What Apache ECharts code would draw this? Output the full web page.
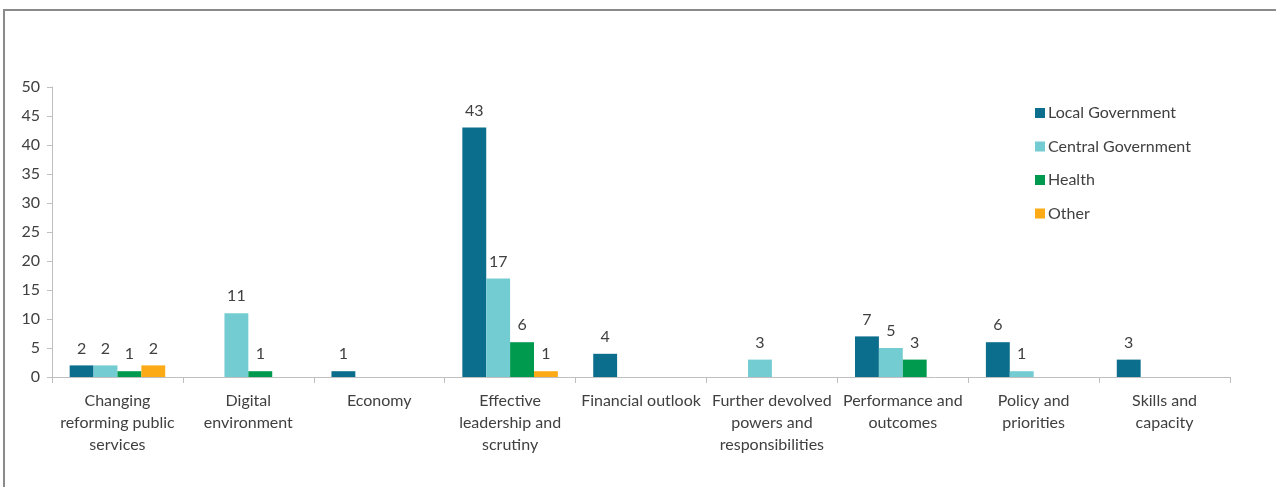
<!DOCTYPE html>
<html>
<head>
<meta charset="utf-8">
<script src="https://cdn.jsdelivr.net/npm/echarts@6/dist/echarts.min.js"></script>
<style>
  html, body { margin: 0; padding: 0; background: #fff; }
  #chart { width: 1276px; height: 487px; }
</style>
</head>
<body>
<div id="chart"></div>
<script>
// Themes and counts per sector
const categories = [
  'Changing\nreforming public\nservices',
  'Digital\nenvironment',
  'Economy',
  'Effective\nleadership and\nscrutiny',
  'Financial outlook',
  'Further devolved\npowers and\nresponsibilities',
  'Performance and\noutcomes',
  'Policy and\npriorities',
  'Skills and\ncapacity'
];
const seriesNames = ['Local Government', 'Central Government', 'Health', 'Other'];
const localGovernment   = [2, null, 1, 43, 4, null, 7, 6, 3];
const centralGovernment = [2, 11, null, 17, null, 3, 5, 1, null];
const health            = [1, 1, null, 6, null, null, 3, null, null];
const other             = [2, null, null, 1, null, null, null, null, null];
const yTicks = { min: 0, max: 50, interval: 5 };

const colors = ['#0B6E8C', '#74CCD3', '#009A4E', '#FCAB17'];
const values = [localGovernment, centralGovernment, health, other];
const fontFamily = 'Lato, "Open Sans", sans-serif';

const chart = echarts.init(document.getElementById('chart'));
chart.setOption({
  animation: false,
  textStyle: { fontFamily: fontFamily },
  graphic: [{
    type: 'rect',
    shape: { x: 4, y: 10, width: 1320, height: 520 },
    style: { fill: 'none', stroke: '#8a8a8a', lineWidth: 2 },
    silent: true
  }],
  legend: {
    orient: 'vertical',
    left: 1030,
    top: 100,
    itemWidth: 10,
    itemHeight: 10,
    itemGap: 17.5,
    icon: 'rect',
    textStyle: { fontSize: 16, color: '#404040', fontFamily: fontFamily, padding: [0, 0, 0, -2] },
    data: seriesNames
  },
  grid: { left: 52, right: 46, top: 87, bottom: 110, containLabel: false },
  xAxis: {
    type: 'category',
    data: categories,
    axisLine: { lineStyle: { color: '#bfbfbf', width: 1 } },
    axisTick: { show: true, alignWithLabel: false, length: 6, lineStyle: { color: '#bfbfbf' } },
    axisLabel: {
      interval: 0,
      color: '#404040',
      fontSize: 16,
      lineHeight: 22,
      margin: 13,
      fontFamily: fontFamily
    }
  },
  yAxis: {
    type: 'value',
    min: yTicks.min,
    max: yTicks.max,
    interval: yTicks.interval,
    splitLine: { show: false },
    axisLine: { show: true, lineStyle: { color: '#bfbfbf' } },
    axisTick: { show: true, length: 5, lineStyle: { color: '#bfbfbf' } },
    axisLabel: { color: '#404040', fontSize: 16, margin: 12, fontFamily: fontFamily }
  },
  series: seriesNames.map((name, i) => ({
    name: name,
    type: 'bar',
    data: values[i],
    barGap: '0%',
    barCategoryGap: '27%',
    itemStyle: { color: colors[i] },
    label: {
      show: true,
      position: 'top',
      distance: 9,
      color: '#404040',
      fontSize: 16,
      fontFamily: fontFamily
    }
  }))
});
</script>
</body>
</html>
